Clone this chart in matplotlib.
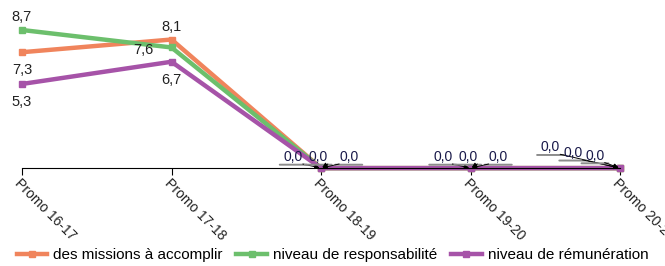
import numpy as np
import matplotlib.pyplot as plt
from matplotlib.transforms import offset_copy

plt.rcParams['font.family'] = ['Liberation Sans', 'DejaVu Sans']

# data
promos = ['Promo 16-17', 'Promo 17-18', 'Promo 18-19', 'Promo 19-20', 'Promo 20-21']
missions = [7.3, 8.1, 0.0, 0.0, 0.0]
responsabilite = [8.7, 7.6, 0.0, 0.0, 0.0]
remuneration = [5.3, 6.7, 0.0, 0.0, 0.0]
series_names = ['des missions à accomplir', 'niveau de responsabilité', 'niveau de rémunération']

colors = ['#f0845c', '#6cbf6c', '#a653a8']

fig = plt.figure(figsize=(6.65, 2.66), dpi=100)
ax = fig.add_axes([22/665, 0.368, (620-22)/665, 0.567])

x = np.arange(len(promos))
all_series = [missions, responsabilite, remuneration]
for vals, c, name in zip(all_series, colors, series_names):
    ax.plot(x, vals, color=c, lw=3.2, marker='s', ms=5, label=name,
            solid_joinstyle='miter', clip_on=False)

ax.set_xlim(0, 4)
ax.set_ylim(0, 9.5)
for s in ['top', 'right', 'left']:
    ax.spines[s].set_visible(False)
ax.spines['bottom'].set_linewidth(0.8)
ax.set_yticks([])
ax.set_xticks(x)
ax.set_xticklabels(promos, rotation=-45, ha='left', va='top',
                   rotation_mode='anchor', fontsize=10, color='#222222')
ax.tick_params(axis='x', length=5, width=0.8, pad=1)


def lab(v):
    return f'{v:.1f}'.replace('.', ',')


# value labels for the first two promos (offsets in points)
offs = {
    (0, 0): (0, -13), (1, 0): (0, 9), (2, 0): (0, -13),
    (0, 1): (0, 9), (1, 1): (-20, -2), (2, 1): (0, -13),
}
for (si, pi), (dx, dy) in offs.items():
    v = all_series[si][pi]
    ax.annotate(lab(v), (x[pi], v), xytext=(dx, dy), textcoords='offset points',
                ha='center', va='center', fontsize=10.5, color='#222222')

# zero labels with leader arrows and grey underline
zero_offs = {
    2: [(-20, 8), (-2, 8), (20, 8)],
    3: [(-20, 8), (-2, 8), (20, 8)],
    4: [(-50, 15), (-34, 11), (-18, 9)],
}
for pi, lst in zero_offs.items():
    for si, (dx, dy) in enumerate(lst):
        v = all_series[si][pi]
        tr = offset_copy(ax.transData, fig=fig, x=dx, y=dy, units='points')
        txt = ax.text(x[pi], v, lab(v), transform=tr, ha='center', va='center',
                      fontsize=10, color='#1a1a4a', clip_on=False)
        # grey underline below the label
        ax.annotate('', xy=(1.2, -0.05), xycoords=txt, xytext=(-0.2, -0.05), textcoords=txt,
                    arrowprops=dict(arrowstyle='-', color='#8c8c8c', lw=1.4,
                                    shrinkA=0, shrinkB=0))
        # leader arrow to the point
        sx = 1.0 if dx < 0 else 0.0
        ax.annotate('', xy=(x[pi], v), xytext=(sx, 0.0), textcoords=txt,
                    arrowprops=dict(arrowstyle='-|>', color='black', lw=0.7,
                                    mutation_scale=7, shrinkA=0, shrinkB=1))

fig.legend(loc='center', ncol=3, frameon=False, fontsize=11,
           bbox_to_anchor=(0.5, 0.04), handlelength=2.0, columnspacing=0.9,
           handletextpad=0.4)

fig.savefig('out.png', dpi=100)
